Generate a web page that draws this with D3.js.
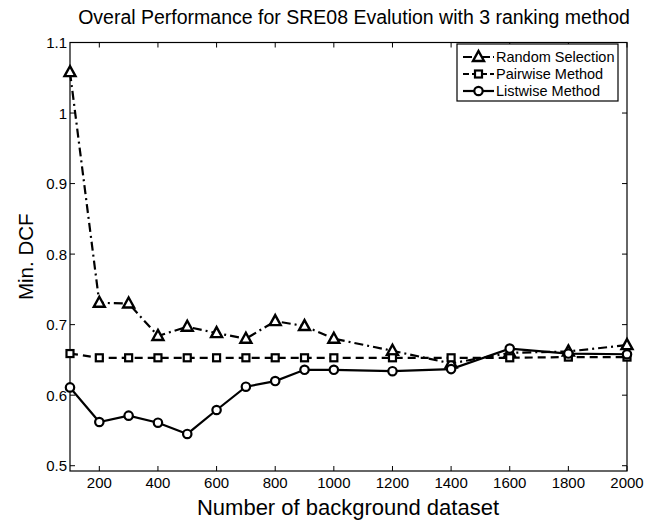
<!DOCTYPE html>
<html>
<head>
<meta charset="utf-8">
<script src="https://cdn.jsdelivr.net/npm/d3@7"></script>
<style>
  body { margin: 0; background: #fff; }
  text { font-family: "Liberation Sans", Arial, sans-serif; fill: #000; }
</style>
</head>
<body>
<svg id="chart" width="655" height="522"></svg>
<script>
// data
var sizes = [100, 200, 300, 400, 500, 600, 700, 800, 900, 1000, 1200, 1400, 1600, 1800, 2000];
var randomSel = [1.058, 0.731, 0.730, 0.684, 0.697, 0.688, 0.680, 0.705, 0.698, 0.680, 0.663, 0.645, 0.660, 0.662, 0.671];
var pairwise = [0.659, 0.653, 0.653, 0.653, 0.653, 0.653, 0.653, 0.653, 0.653, 0.653, 0.653, 0.653, 0.653, 0.654, 0.654];
var listwise = [0.611, 0.562, 0.571, 0.561, 0.545, 0.579, 0.612, 0.620, 0.636, 0.636, 0.634, 0.637, 0.666, 0.659, 0.658];
var xTicks = [200, 400, 600, 800, 1000, 1200, 1400, 1600, 1800, 2000];
var yTicks = [0.5, 0.6, 0.7, 0.8, 0.9, 1, 1.1];
var seriesNames = ["Random Selection", "Pairwise Method", "Listwise Method"];

var svg = d3.select("#chart");
var plotL = 70, plotT = 42.5, plotR = 627, plotB = 471;

var x = d3.scaleLinear().domain([100, 2000]).range([plotL, plotR]);
var y = d3.scaleLinear().domain([0.4925, 1.1]).range([plotB, plotT]);

var TICK = 5;

// box
svg.append("rect")
    .attr("x", plotL).attr("y", plotT)
    .attr("width", plotR - plotL).attr("height", plotB - plotT)
    .attr("fill", "none").attr("stroke", "#000").attr("stroke-width", 1.2);

// inward ticks, matlab style
var tickG = svg.append("g").attr("stroke", "#000").attr("stroke-width", 1);
xTicks.forEach(function(t) {
    tickG.append("line").attr("x1", x(t)).attr("x2", x(t)).attr("y1", plotB).attr("y2", plotB - TICK);
    tickG.append("line").attr("x1", x(t)).attr("x2", x(t)).attr("y1", plotT).attr("y2", plotT + TICK);
});
yTicks.forEach(function(t) {
    tickG.append("line").attr("x1", plotL).attr("x2", plotL + TICK).attr("y1", y(t)).attr("y2", y(t));
    tickG.append("line").attr("x1", plotR).attr("x2", plotR - TICK).attr("y1", y(t)).attr("y2", y(t));
});

svg.append("g").selectAll("text").data(xTicks).enter().append("text")
    .attr("x", function(d) { return x(d); })
    .attr("y", plotB + 17)
    .attr("text-anchor", "middle")
    .attr("font-size", "15px")
    .text(function(d) { return d; });

svg.append("g").selectAll("text").data(yTicks).enter().append("text")
    .attr("x", plotL - 3)
    .attr("y", function(d) { return y(d) + 5.5; })
    .attr("text-anchor", "end")
    .attr("font-size", "15px")
    .text(function(d) { return d; });

// titles
svg.append("text")
    .attr("x", 354).attr("y", 24)
    .attr("text-anchor", "middle")
    .attr("font-size", "19.5px")
    .text("Overal Performance for SRE08 Evalution with 3 ranking method");

svg.append("text")
    .attr("x", 348).attr("y", 515)
    .attr("text-anchor", "middle")
    .attr("font-size", "22px")
    .text("Number of background dataset");

svg.append("text")
    .attr("transform", "translate(33," + ((plotT + plotB) / 2) + ")rotate(-90)")
    .attr("text-anchor", "middle")
    .attr("font-size", "20.5px")
    .text("Min. DCF");

// series
var series = [
    { name: seriesNames[0], values: randomSel, dash: "9,4,2,4", marker: "triangle" },
    { name: seriesNames[1], values: pairwise, dash: "8,5", marker: "square" },
    { name: seriesNames[2], values: listwise, dash: null, marker: "circle" }
];

var line = d3.line()
    .x(function(d) { return x(d[0]); })
    .y(function(d) { return y(d[1]); });

function drawMarker(g, type, cx, cy) {
    if (type === "triangle") {
        g.append("path")
            .attr("d", "M" + cx + "," + (cy - 6) + "L" + (cx + 5.5) + "," + (cy + 4) + "L" + (cx - 5.5) + "," + (cy + 4) + "Z")
            .attr("fill", "#fff").attr("stroke", "#000").attr("stroke-width", 2.4);
    } else if (type === "square") {
        g.append("rect")
            .attr("x", cx - 3.5).attr("y", cy - 3.5).attr("width", 7).attr("height", 7)
            .attr("fill", "#fff").attr("stroke", "#000").attr("stroke-width", 2.2);
    } else {
        g.append("circle")
            .attr("cx", cx).attr("cy", cy).attr("r", 4.2)
            .attr("fill", "#fff").attr("stroke", "#000").attr("stroke-width", 2.2);
    }
}

series.forEach(function(s) {
    var pts = sizes.map(function(v, i) { return [v, s.values[i]]; });
    var g = svg.append("g");
    g.append("path")
        .attr("d", line(pts))
        .attr("fill", "none")
        .attr("stroke", "#000")
        .attr("stroke-width", 2.2)
        .attr("stroke-dasharray", s.dash);
    pts.forEach(function(p) { drawMarker(g, s.marker, x(p[0]), y(p[1])); });
});

// legend
var lg = svg.append("g");
lg.append("rect")
    .attr("x", 457).attr("y", 44)
    .attr("width", 161).attr("height", 57)
    .attr("fill", "#fff").attr("stroke", "#000").attr("stroke-width", 1.2);

series.forEach(function(s, i) {
    var ly = 57 + i * 17;
    lg.append("line")
        .attr("x1", 463).attr("x2", 494).attr("y1", ly).attr("y2", ly)
        .attr("stroke", "#000").attr("stroke-width", 2.2)
        .attr("stroke-dasharray", s.dash ? (i === 0 ? "9,3,3,3" : "6,3") : null);
    drawMarker(lg, s.marker, 478.5, ly);
    lg.append("text")
        .attr("x", 496).attr("y", ly + 5)
        .attr("font-size", "14.5px")
        .text(s.name);
});
</script>
</body>
</html>
